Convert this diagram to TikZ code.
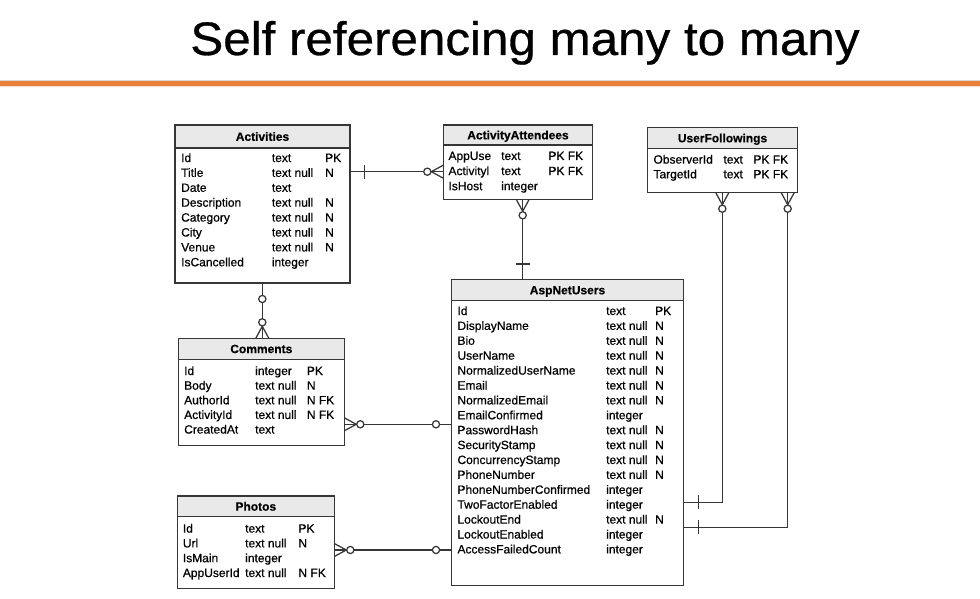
\documentclass[tikz,border=0pt]{standalone}
\usepackage{fontspec}
\setmainfont{Liberation Sans}[RawFeature={embolden=0.6}]
\usetikzlibrary{calc}

\definecolor{ink}{HTML}{363636}
\definecolor{hdrgrey}{HTML}{E9E9E9}
\definecolor{accent}{HTML}{E9813A}

\tikzset{
  tblline/.style={draw=ink, line width=1.25pt},
  conn/.style={draw=ink, line width=1.25pt},
  cell/.style={anchor=base west, inner sep=0pt, font=\fontsize{12}{14}\selectfont, text=black},
  hdr/.style={anchor=base, inner sep=0pt, font=\bfseries\fontsize{12}{14}\selectfont, text=black},
}

% table frame: name, left, top, right, bottom, header bottom, title
\newcommand\ertable[7]{%
  \fill[hdrgrey] (#2,#3) rectangle (#4,#6);
  \draw[tblline] (#2,#6) -- (#4,#6);
  \node[tblline, inner sep=0pt, outer sep=0pt, anchor=north west,
        minimum width={(#4-#2)*1pt}, minimum height={(#5-#3)*1pt}] (#1) at (#2,#3) {};
  \node[hdr] (#1-title) at ({(#2+#4)/2},{(#3+#6)/2+4.3}) {#7};
}

% column rows: prefix, x name, x type, x key, first row centre, row pitch, rows
\newcommand\errows[7]{%
  \foreach [count=\i from 0] \a/\b/\c in {#7} {
    \node[cell] (#1-\i-name) at (#2,{#5+#6*\i+4.3}) {\a};
    \node[cell] (#1-\i-type) at (#3,{#5+#6*\i+4.3}) {\b};
    \node[cell] (#1-\i-key)  at (#4,{#5+#6*\i+4.3}) {\c};
  }}

% zero-or-many end: point on the box edge, direction pointing away from the box
\newcommand\manyzero[2]{%
  \begin{scope}[shift={(#1)}, rotate=#2]
    \draw[conn] (0,6.5) -- (12,0) -- (0,-6.5);
    \draw[conn, fill=white] (16,0) circle (3.6);
  \end{scope}}
% exactly-one end: point, direction, distance of the bar
\newcommand\onlyone[3]{%
  \begin{scope}[shift={(#1)}, rotate=#2]
    \draw[conn] (#3,-7) -- (#3,7);
  \end{scope}}
% zero-or-one end: point, direction, distance of the circle
\newcommand\zeroone[3]{%
  \begin{scope}[shift={(#1)}, rotate=#2]
    \draw[conn, fill=white] (#3,0) circle (3.6);
  \end{scope}}

\begin{document}
\begin{tikzpicture}[x=1pt, y=-1pt]
  \fill[white] (0,0) rectangle (980,599);
  \useasboundingbox (0,0) rectangle (980,599);

  % title and rule
  \node[anchor=base, inner sep=0pt] (title) at (525,55)
    {\scalebox{1.05}[1]{\fontsize{47}{50}\selectfont Self referencing many to many}};
  \draw[black!15, line width=0.8pt] (0,80.2) -- (980,80.2);
  \fill[accent] (0,81) rectangle (980,86);
  \fill[accent!25] (0,86) rectangle (980,87);

  % tables
  \ertable{act}{175}{125}{350}{283}{148}{Activities}
  \errows{act}{181}{271.7}{325}{157.7}{14.9}{Id/text/PK, Title/text null/N, Date/text/{}, Description/text null/N, Category/text null/N, City/text null/N, Venue/text null/N, IsCancelled/integer/{}}

  \ertable{aa}{443.3}{125}{592.7}{199.3}{145}{ActivityAttendees}
  \errows{aa}{448.3}{501}{548.3}{155.7}{15.1}{AppUse/text/PK FK, Activityl/text/PK FK, IsHost/integer/{}}

  \ertable{uf}{647.7}{127.7}{797.3}{192.7}{148.3}{UserFollowings}
  \errows{uf}{653.3}{723.3}{753.3}{159.3}{14.7}{ObserverId/text/PK FK, TargetId/text/PK FK}

  \ertable{asp}{451.7}{279.3}{683.3}{585.7}{300.7}{AspNetUsers}
  \errows{asp}{457.3}{606}{655}{310.7}{14.9}{Id/text/PK, DisplayName/text null/N, Bio/text null/N, UserName/text null/N, NormalizedUserName/text null/N, Email/text null/N, NormalizedEmail/text null/N, EmailConfirmed/integer/{}, PasswordHash/text null/N, SecurityStamp/text null/N, ConcurrencyStamp/text null/N, PhoneNumber/text null/N, PhoneNumberConfirmed/integer/{}, TwoFactorEnabled/integer/{}, LockoutEnd/text null/N, LockoutEnabled/integer/{}, AccessFailedCount/integer/{}}

  \ertable{com}{178.3}{338.3}{344.3}{445.7}{359.3}{Comments}
  \errows{com}{184}{255}{306.7}{370.7}{14.65}{Id/integer/PK, Body/text null/N, AuthorId/text null/N FK, ActivityId/text null/N FK, CreatedAt/text/{}}

  \ertable{ph}{177.3}{496}{334.3}{588.3}{516.7}{Photos}
  \errows{ph}{182.7}{245}{298.3}{528.3}{14.8}{Id/text/PK, Url/text null/N, IsMain/integer/{}, AppUserId/text null/N FK}

  % Activities -- ActivityAttendees
  \coordinate (act-aa) at (act.east |- 0,171.7);
  \coordinate (aa-act) at (aa.west |- 0,171.7);
  \draw[conn] (act-aa) -- (aa-act);
  \onlyone{act-aa}{0}{14.7}
  \manyzero{aa-act}{180}

  % ActivityAttendees -- AspNetUsers
  \coordinate (aa-asp) at (aa.south -| 522.7,0);
  \coordinate (asp-aa) at (asp.north -| 522.7,0);
  \draw[conn] (aa-asp) -- (asp-aa);
  \manyzero{aa-asp}{-90}
  \onlyone{asp-aa}{90}{15.3}

  % UserFollowings -- AspNetUsers (observer)
  \coordinate (uf-obs) at (uf.south -| 722.3,0);
  \coordinate (asp-obs) at (asp.east |- 0,502.3);
  \draw[conn] (uf-obs) |- (asp-obs);
  \manyzero{uf-obs}{-90}
  \onlyone{asp-obs}{0}{15}

  % UserFollowings -- AspNetUsers (target)
  \coordinate (uf-tgt) at (uf.south -| 787.7,0);
  \coordinate (asp-tgt) at (asp.east |- 0,527.3);
  \draw[conn] (uf-tgt) |- (asp-tgt);
  \manyzero{uf-tgt}{-90}
  \onlyone{asp-tgt}{0}{15}

  % Activities -- Comments
  \coordinate (act-com) at (act.south -| 262.3,0);
  \coordinate (com-act) at (com.north -| 262.3,0);
  \draw[conn] (act-com) -- (com-act);
  \zeroone{act-com}{-90}{16}
  \manyzero{com-act}{90}

  % Comments -- AspNetUsers
  \coordinate (com-asp) at (com.east |- 0,424.3);
  \coordinate (asp-com) at (asp.west |- 0,424.3);
  \draw[conn] (com-asp) -- (asp-com);
  \manyzero{com-asp}{0}
  \zeroone{asp-com}{180}{15.7}

  % Photos -- AspNetUsers
  \coordinate (ph-asp) at (ph.east |- 0,550);
  \coordinate (asp-ph) at (asp.west |- 0,550);
  \draw[conn] (ph-asp) -- (asp-ph);
  \manyzero{ph-asp}{0}
  \zeroone{asp-ph}{180}{15.7}
\end{tikzpicture}
\end{document}
